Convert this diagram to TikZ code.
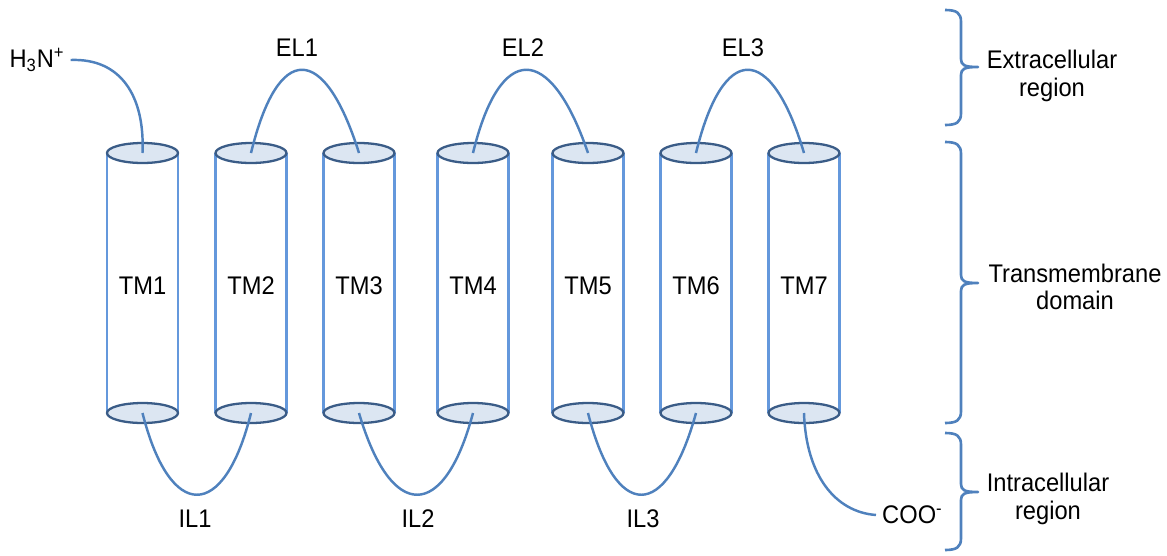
\documentclass[tikz,border=0pt]{standalone}
\usepackage{fontspec}
\setmainfont{Liberation Sans}[FakeStretch=0.93]
\definecolor{loopblue}{RGB}{79,129,189}
\definecolor{sideblue}{RGB}{100,152,220}
\definecolor{capblue}{RGB}{58,92,135}
\definecolor{capfill}{RGB}{220,230,242}

\begin{document}
\begin{tikzpicture}[x=0.02cm, y=-0.02cm, font=\fontsize{14.5}{15.5}\selectfont]
    \useasboundingbox (0,0) rectangle (1167,555);
    % helices
    \foreach \x/\i in {142.5/1, 251/2, 359/3, 473/4, 588/5, 696/6, 804/7} {
        \draw[sideblue, line width=1.4pt] (\x-35.5, 153) -- (\x-35.5, 413);
        \draw[sideblue, line width=1.4pt] (\x+35.5, 153) -- (\x+35.5, 413);
        \draw[capblue, fill=capfill, line width=1.3pt] (\x, 153) ellipse [x radius=0.71cm, y radius=0.2cm];
        \draw[capblue, fill=capfill, line width=1.3pt] (\x, 413) ellipse [x radius=0.71cm, y radius=0.2cm];
        \coordinate (t\i) at (\x, 153);
        \coordinate (b\i) at (\x, 413);
        \node (tm\i) at (\x, 286) {TM\i};
    }
    % termini
    \node (nterm) at (37, 60) {H\textsubscript{3}N\textsuperscript{+}};
    \node[anchor=west] (cterm) at (876, 515) {COO\textsuperscript{-}};
    \draw[loopblue, line width=1.4pt] (nterm.east) .. controls (120, 58) and (145, 95) .. (t1);
    \draw[loopblue, line width=1.4pt] (b7) .. controls (806, 475) and (835, 512) .. (cterm.west);
    % extracellular loops
    \draw[loopblue, line width=1.4pt] (t2) .. controls (278, 42) and (324, 42) .. (t3);
    \draw[loopblue, line width=1.4pt] (t4) .. controls (500, 42) and (550, 42) .. (t5);
    \draw[loopblue, line width=1.4pt] (t6) .. controls (723, 42) and (771, 42) .. (t7);
    \node (el1) at (297, 48) {EL1};
    \node (el2) at (523, 48) {EL2};
    \node (el3) at (743, 48) {EL3};
    % intracellular loops
    \draw[loopblue, line width=1.4pt] (b1) .. controls (170, 522) and (224, 522) .. (b2);
    \draw[loopblue, line width=1.4pt] (b3) .. controls (391, 522) and (444, 522) .. (b4);
    \draw[loopblue, line width=1.4pt] (b5) .. controls (616, 522) and (666, 522) .. (b6);
    \node (il1) at (195, 519) {IL1};
    \node (il2) at (418, 519) {IL2};
    \node (il3) at (643, 519) {IL3};
    % regions
    \foreach \t/\m/\b in {10/67/125, 142/283/423, 433/492/550} {
        \draw[loopblue, line width=1.5pt, line join=round] (945, \t) .. controls (957, \t) and (961, \t+3) .. (961, \t+12)
            -- (961, \m-8) .. controls (961, \m-2) and (964, \m) .. (978, \m)
            .. controls (964, \m) and (961, \m+2) .. (961, \m+8)
            -- (961, \b-12) .. controls (961, \b-3) and (957, \b) .. (945, \b);
    }
    \node[align=center] (extra) at (1052, 76) {Extracellular\\region};
    \node[align=center] (trans) at (1075, 287) {Transmembrane\\domain};
    \node[align=center] (intra) at (1048, 499) {Intracellular\\region};
\end{tikzpicture}
\end{document}
